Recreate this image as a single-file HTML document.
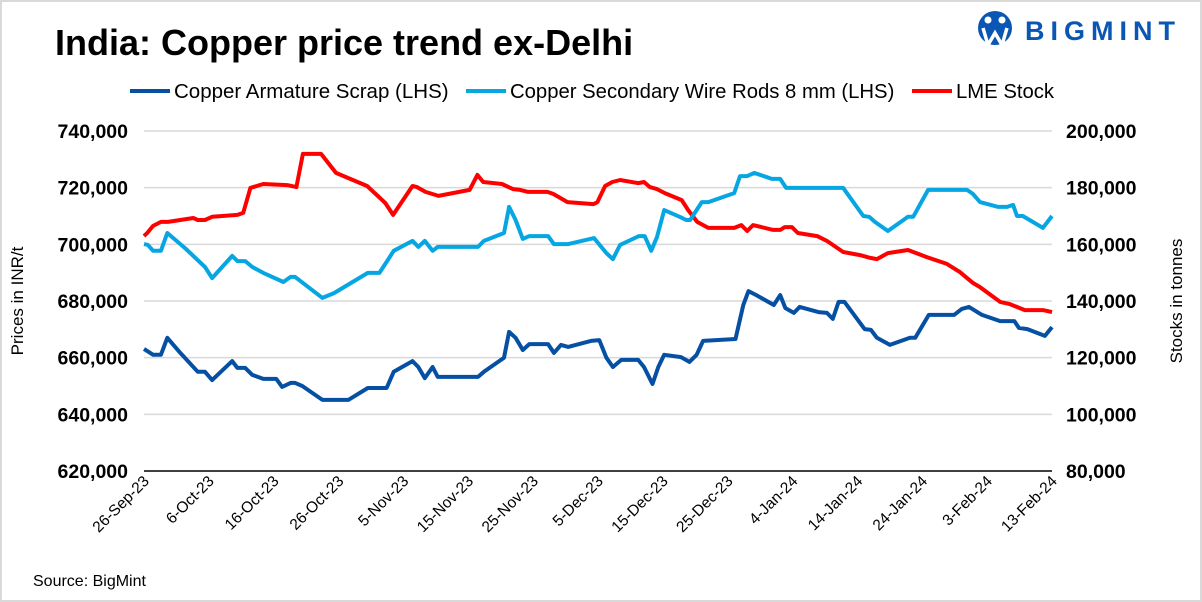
<!DOCTYPE html>
<html><head><meta charset="utf-8"><style>
body{margin:0;background:#fff}
#wrap{position:relative;width:1198px;height:598px;border:2px solid #d9d9d9;overflow:hidden;font-family:"Liberation Sans",sans-serif}
</style></head><body>
<div id="wrap">
<svg id="chart" width="1198" height="598" viewBox="2 2 1198 598">
  <text x="55" y="55" font-size="36" font-weight="bold" fill="#000">India: Copper price trend ex-Delhi</text>
  <g>
    <circle cx="995" cy="28" r="17" fill="#0a56b4"/>
    <circle cx="988" cy="20" r="3.5" fill="#fff"/><circle cx="1002" cy="20" r="3.5" fill="#fff"/>
    <path d="M983 28 L988 45 L995 33 L1002 45 L1007 28" stroke="#fff" stroke-width="3.5" fill="none"/>
    <text x="1025" y="40" font-size="27" font-weight="bold" fill="#0a56b4" letter-spacing="6">BIGMINT</text>
  </g>
  <g>
    <g><line x1="130" y1="91" x2="170" y2="91" stroke="#0650a4" stroke-width="4"/><text x="174" y="98" font-size="20.5">Copper Armature Scrap (LHS)</text></g>
    <g><line x1="466" y1="91" x2="506" y2="91" stroke="#06a6e3" stroke-width="4"/><text x="510" y="98" font-size="20.3">Copper Secondary Wire Rods 8 mm (LHS)</text></g>
    <g><line x1="912" y1="91" x2="952" y2="91" stroke="#ff0000" stroke-width="4"/><text x="956" y="98" font-size="20.3">LME Stock</text></g>
  </g>
  <g id="grid"></g>
  <g id="yl"></g>
  <g id="yr"></g>
  <g id="xa"></g>
  <g id="series"></g>
  <text transform="translate(23,301) rotate(-90)" text-anchor="middle" font-size="17">Prices in INR/t</text>
  <text transform="translate(1182,301) rotate(-90)" text-anchor="middle" font-size="17">Stocks in tonnes</text>
  <text x="33" y="586" font-size="16">Source: BigMint</text>
</svg>
</div>
<script>
const xTickLabels=["26-Sep-23","6-Oct-23","16-Oct-23","26-Oct-23","5-Nov-23","15-Nov-23","25-Nov-23","5-Dec-23","15-Dec-23","25-Dec-23","4-Jan-24","14-Jan-24","24-Jan-24","3-Feb-24","13-Feb-24"];
const leftTicks=[620000,640000,660000,680000,700000,720000,740000];
const rightTicks=[80000,100000,120000,140000,160000,180000,200000];
// days since 26-Sep-23
const armDays=[0,1.4,2.6,3.6,5.6,8.3,9.4,10.5,13.6,14.4,15.6,16.7,18.4,20.4,21.3,22.6,23.3,24.4,27.5,31.5,34.5,37.4,38.5,41.4,42.3,43.3,44.5,45.3,51.5,52.4,55.5,56.3,57.3,58.4,59.4,62.3,63.2,64.3,65.4,68.9,70.2,71.3,72.3,73.6,76.2,77.1,78.4,79.3,80.2,82.8,84.1,85.2,86.2,91.2,92.4,93.2,94.4,97.1,98.1,98.9,100.2,101.1,104,105.3,106.2,107.1,108,111.1,112.1,113,115,118.1,118.9,121,124.9,126.1,127.2,129.2,132,134.2,134.9,136.2,138.9,140];
const armVals=[663.1,661,661,667,661.7,655,655,652.1,658.8,656.4,656.4,653.9,652.5,652.5,649.7,651.1,651.1,650,645.1,645.1,649.3,649.3,655,658.8,656.7,652.8,656.7,653.2,653.2,655,660,669.1,667,662.7,664.8,664.8,661.7,664.5,663.8,665.9,666.2,660,656.7,659.2,659.2,656.7,650.7,656.7,661,660.2,658.5,661,665.9,666.6,678.6,683.5,682.1,678.6,682.1,677.5,675.8,677.9,676.1,675.8,673.7,679.7,679.7,670.1,669.8,667,664.5,667,667,675.1,675.1,677.2,677.9,675.1,672.9,672.9,670.5,670.1,667.7,670.8];
const rodDays=[0,0.6,1.4,2.6,3.6,6.3,9.4,10.5,13.6,14.4,15.6,16.7,18.4,21.5,22.6,23.3,27.5,29.3,34.5,36.3,37.6,38.5,41.4,42.3,43.3,44.5,45.3,51.5,52.4,55.5,56.3,57.3,58.4,59.4,62.3,63.2,65.4,69.4,71.3,72.3,73.4,76.3,77.2,78.2,79.1,80.2,82.6,83.6,84.2,86,87,91,91.9,93,94.1,96.8,98.1,99,107.8,110.9,111.8,112.7,114.7,117.8,118.6,120.9,126.9,127.8,128.9,131.7,133.1,134,134.6,135.5,138.6,140];
const rodVals=[700.1,699.8,697.7,697.7,704,698.7,692,688.1,695.9,694.1,694.1,692,689.9,686.7,688.5,688.5,681.1,682.8,689.9,689.9,694.5,697.7,701.2,699.1,701.2,697.7,699.1,699.1,701.2,704,713.2,708.6,701.9,702.9,702.9,700.1,700.1,702.2,696.9,694.8,699.8,702.9,702.9,697.7,702.6,712.1,709.7,708.6,708.6,714.9,714.9,718.1,724.1,724.1,725.2,723.1,723.1,719.9,719.9,710,709.7,707.9,704.7,709.7,709.7,719.2,719.2,717.8,714.9,713.2,713.2,713.9,710,710,705.8,710];
const lmeDays=[0,0.5,1.4,2.6,3.7,7.6,8.3,9.4,10.5,14.4,15.3,16.4,18.4,22.1,23.5,24.5,27.3,29.6,31.8,34.4,37.2,38.4,41.4,42.1,43.4,45.4,50.2,51.4,52.3,55.2,56.9,58,59.2,62.2,63.1,65.3,69.3,69.9,71.1,72.2,73.4,76.2,77.1,78,79.1,80.3,82.9,83.9,85.3,87,91,92.1,93,93.9,97,98.1,98.8,99.9,100.8,103.8,105.3,107.8,110.4,112,113,114.7,117.8,120.7,123.8,125.8,127.8,128.9,132,133.5,135.8,138.6,140];
const lmeVals=[162.9,164,166.5,167.9,167.9,169.3,168.6,168.6,169.7,170.4,171.1,179.9,181.3,180.9,180.2,191.9,191.9,185.2,183.1,180.6,174.6,170.4,180.6,180.2,178.5,177.1,179.2,184.5,182,181.3,179.5,179.2,178.5,178.5,177.8,174.9,174.2,174.9,180.6,182,182.7,181.6,182,180.2,179.5,178.1,175.6,172.1,167.9,165.8,165.8,166.8,164.7,166.8,165.1,165.1,166.1,166.1,164,162.9,161.2,157.3,156.2,155.2,154.8,156.9,158,155.5,153.1,150.2,146.4,144.9,139.7,138.9,136.8,136.8,136.1];

const X0=144,X1=1052,Y0=471,Y1=131;
const xs=d=>X0+(X1-X0)*d/140;
const yL=v=>Y0-(Y0-Y1)*(v-620000)/120000;
const yR=v=>Y0-(Y0-Y1)*(v-80000)/120000;
const NS="http://www.w3.org/2000/svg";
function mk(t,a,p){const e=document.createElementNS(NS,t);for(const k in a)e.setAttribute(k,a[k]);p.appendChild(e);return e;}
const fmt=v=>v.toLocaleString('en-US');
const grid=document.getElementById('grid'),yl=document.getElementById('yl'),yr=document.getElementById('yr'),xa=document.getElementById('xa'),ser=document.getElementById('series');
leftTicks.forEach((v,i)=>{
  if(i>0){const g=mk('line',{x1:X0,x2:X1,y1:yL(v),y2:yL(v),stroke:'#d9d9d9','stroke-width':1.5},grid);
  
  }
  const t=mk('text',{x:128,y:yL(v)+7,'text-anchor':'end','font-size':19.5,'font-weight':'bold'},yl);t.textContent=fmt(v);
  
  
});
rightTicks.forEach(v=>{
  const t=mk('text',{x:1066,y:yR(v)+7,'font-size':19.5,'font-weight':'bold'},yr);t.textContent=fmt(v);
  
  
});
const ax=mk('line',{x1:X0,x2:X1,y1:Y0,y2:Y0,stroke:'#000','stroke-width':1.5},xa);


xTickLabels.forEach((s,i)=>{
  const x=xs(i*10)+6;
  const t=mk('text',{x:x,y:482,'text-anchor':'end','font-size':15.5,transform:`rotate(-45 ${x} 482)`},xa);t.textContent=s;
  
  
});
function line(days,vals,sc,color,name){
  const d=days.map((dd,i)=>(i?'L':'M')+xs(dd).toFixed(1)+' '+sc(vals[i]).toFixed(1)).join(' ');
  const p=mk('path',{d:d,fill:'none',stroke:color,'stroke-width':4,'stroke-linejoin':'round'},ser);
  
  
}
line(lmeDays,lmeVals.map(v=>v*1000),yR,'#ff0000','lme-stock-line');
line(rodDays,rodVals.map(v=>v*1000),yL,'#06a6e3','wire-rods-line');
line(armDays,armVals.map(v=>v*1000),yL,'#0650a4','armature-scrap-line');
</script>
</body></html>
